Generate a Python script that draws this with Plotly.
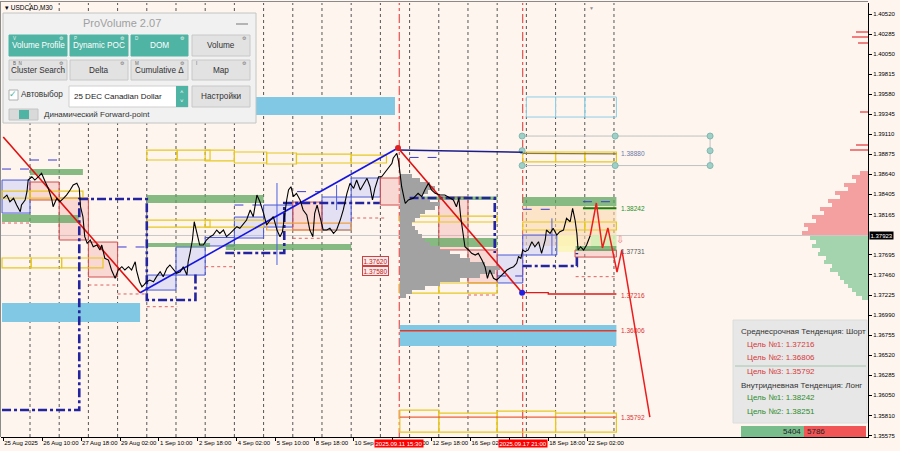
import plotly.graph_objects as go

# ================= DATA =================
# x = M30 bar number counted from 25 Aug 2025 00:00 (trading time, 48 bars per day)
x_tick_bars = [4, 68, 132, 196, 260, 324, 388, 452, 516, 580, 644, 708, 772, 836, 900, 964]
x_tick_text = ["25 Aug 2025", "26 Aug 10:00", "27 Aug 18:00", "29 Aug 02:00", "1 Sep 10:00",
               "2 Sep 18:00", "4 Sep 02:00", "5 Sep 10:00", "8 Sep 18:00", "10 Sep 02:00",
               "11 Sep 10:00", "12 Sep 18:00", "16 Sep 02:00", "17 Sep 10:00", "18 Sep 18:00",
               "22 Sep 02:00"]
day_start_bars = [48, 96, 144, 192, 240, 288, 336, 384, 432, 480, 528, 576, 624, 672, 720,
                  768, 816, 864, 912, 960, 1008]
y_tick_vals = [1.40520, 1.40285, 1.40050, 1.39815, 1.39580, 1.39345, 1.39110, 1.38875, 1.38640,
               1.38405, 1.38165, 1.37695, 1.37460, 1.37225, 1.36990, 1.36755, 1.36520, 1.36285,
               1.36050, 1.35810, 1.35575]
y_tick_text = ["%.5f" % v for v in y_tick_vals]
marker_bars = [655, 858]
marker_text = ["2025.09.11 15:30", "2025.09.17 21:00"]
current_price = 1.37923

price_bar = [4, 10, 15, 21, 26, 32, 34, 40, 43, 45,
             51, 56, 62, 67, 73, 78, 84, 86, 92, 97,
             103, 108, 114, 119, 125, 129, 131, 135, 138, 142,
             147, 152, 158, 163, 166, 171, 177, 182, 188, 193,
             199, 204, 210, 215, 221, 223, 228, 232, 235, 240,
             245, 251, 256, 262, 267, 273, 278, 284, 289, 295,
             300, 306, 308, 311, 315, 318, 322, 327, 333, 338,
             344, 349, 355, 360, 366, 371, 377, 382, 388, 393,
             399, 404, 410, 415, 421, 426, 432, 437, 443, 448,
             454, 459, 463, 467, 470, 473, 477, 481, 486, 492,
             497, 503, 508, 513, 516, 520, 525, 530, 536, 541,
             547, 552, 558, 563, 569, 574, 580, 585, 591, 596,
             602, 607, 611, 615, 621, 626, 632, 637, 643, 645,
             651, 654, 656, 659, 663, 665, 670, 678, 686, 692,
             697, 703, 708, 714, 722, 730, 739, 744, 749, 753,
             756, 760, 763, 769, 774, 780, 785, 791, 796, 800,
             804, 810, 815, 821, 826, 832, 837, 843, 848, 851,
             855, 858, 862, 867, 873, 878, 884, 889, 895, 897,
             903, 908, 914, 919, 925, 930, 936, 940, 944, 947,
             949, 953, 958, 963, 969]
price_close = [1.38359, 1.38397, 1.38319, 1.38359, 1.38280, 1.38202, 1.38280, 1.38339, 1.38436, 1.38573,
               1.38612, 1.38573, 1.38612, 1.38652, 1.38553, 1.38476, 1.38339, 1.38260, 1.38359, 1.38319,
               1.38359, 1.38397, 1.38456, 1.38515, 1.38535, 1.38476, 1.38260, 1.38143, 1.37909, 1.37831,
               1.37870, 1.37791, 1.37811, 1.37753, 1.37811, 1.37655, 1.37635, 1.37518, 1.37421, 1.37518,
               1.37557, 1.37518, 1.37557, 1.37518, 1.37615, 1.37518, 1.37381, 1.37322, 1.37342, 1.37381,
               1.37401, 1.37381, 1.37440, 1.37498, 1.37440, 1.37538, 1.37577, 1.37518, 1.37479, 1.37498,
               1.37557, 1.37459, 1.37615, 1.37714, 1.37870, 1.38084, 1.37948, 1.37811, 1.37811, 1.37870,
               1.37909, 1.37928, 1.37987, 1.37948, 1.37987, 1.37909, 1.37948, 1.37987, 1.38026, 1.38007,
               1.38066, 1.38104, 1.38222, 1.38143, 1.38397, 1.38319, 1.38183, 1.38046, 1.38104, 1.38143,
               1.37987, 1.37909, 1.37967, 1.38222, 1.38339, 1.38456, 1.38495, 1.38378, 1.38417, 1.38339,
               1.38222, 1.38163, 1.37987, 1.37909, 1.38183, 1.38280, 1.38143, 1.37987, 1.37987, 1.38007,
               1.37948, 1.37987, 1.38104, 1.38222, 1.38417, 1.38535, 1.38476, 1.38573, 1.38456, 1.38515,
               1.38593, 1.38495, 1.38339, 1.38476, 1.38612, 1.38612, 1.38671, 1.38711, 1.38769, 1.38828,
               1.38887, 1.38788, 1.38652, 1.38495, 1.38359, 1.38300, 1.38339, 1.38359, 1.38417, 1.38378,
               1.38456, 1.38535, 1.38456, 1.38417, 1.38397, 1.38397, 1.38359, 1.38339, 1.38260, 1.38359,
               1.38143, 1.37948, 1.37791, 1.37753, 1.37714, 1.37694, 1.37714, 1.37635, 1.37557, 1.37421,
               1.37518, 1.37421, 1.37401, 1.37440, 1.37479, 1.37518, 1.37538, 1.37557, 1.37597, 1.37674,
               1.37655, 1.37753, 1.37733, 1.37753, 1.37850, 1.37791, 1.37850, 1.37714, 1.37870, 1.37987,
               1.37948, 1.38007, 1.37928, 1.37967, 1.37987, 1.38124, 1.38084, 1.38242, 1.38104, 1.37948,
               1.37753, 1.37791, 1.37753, 1.37811, 1.37923]

proj_bar = [969, 979, 989, 998, 1013, 1021, 1067]
proj_price = [1.37923, 1.38304, 1.37776, 1.38011, 1.37495, 1.37753, 1.35792]

trend_bar = [4, 229, 653, 857]
trend_price = [1.39078, 1.37252, 1.38949, 1.37252]

# (bar from, bar to, low, high)
pink_boxes = [(48, 96, 1.38339, 1.38550), (96, 144, 1.37870, 1.38362), (144, 192, 1.37436, 1.37846),
              (480, 528, 1.37987, 1.38315), (624, 672, 1.38280, 1.38597), (720, 768, 1.37753, 1.38374),
              (768, 816, 1.37366, 1.37753), (944, 1012, 1.37670, 1.37753)]
blue_boxes = [(2, 48, 1.38186, 1.38573), (240, 288, 1.37283, 1.37459), (288, 336, 1.37459, 1.37788),
              (336, 384, 1.37800, 1.37900), (384, 432, 1.37893, 1.38139), (432, 480, 1.38022, 1.38280),
              (528, 576, 1.37987, 1.38374), (576, 624, 1.38374, 1.38597), (816, 858, 1.37366, 1.37694),
              (858, 914, 1.37694, 1.37928)]
green_zones = [(48, 135, 1.38632, 1.38702), (2, 48, 1.38081, 1.38175), (48, 128, 1.38069, 1.38163),
               (240, 432, 1.38304, 1.38397), (240, 344, 1.37788, 1.37835), (370, 576, 1.37753, 1.37823),
               (656, 816, 1.37788, 1.37893), (656, 816, 1.38339, 1.38380), (858, 1012, 1.38268, 1.38374),
               (945, 1012, 1.37740, 1.37800)]
yellow_boxes = [(240, 290, 1.38808, 1.38925), (290, 344, 1.38808, 1.38925), (336, 384, 1.38797, 1.38925),
                (384, 437, 1.38773, 1.38902), (437, 486, 1.38761, 1.38890), (486, 576, 1.38773, 1.38878),
                (576, 634, 1.38773, 1.38866), (2, 48, 1.38362, 1.38444), (48, 135, 1.38362, 1.38444),
                (2, 50, 1.37542, 1.37659), (50, 100, 1.37542, 1.37659), (100, 168, 1.37542, 1.37659),
                (240, 344, 1.38022, 1.38104), (336, 432, 1.38022, 1.38104), (656, 720, 1.38081, 1.38151),
                (720, 816, 1.38081, 1.38151), (656, 720, 1.37248, 1.37366), (720, 816, 1.37248, 1.37366),
                (858, 912, 1.38785, 1.38902), (912, 960, 1.38785, 1.38902), (960, 1012, 1.38785, 1.38902),
                (858, 960, 1.37987, 1.38081), (960, 1012, 1.37987, 1.38081), (656, 720, 1.35618, 1.35876),
                (720, 816, 1.35618, 1.35841), (816, 912, 1.35618, 1.35864), (912, 1012, 1.35618, 1.35841)]
orange_boxes = [(437, 576, 1.37987, 1.38069)]
sky_bands = [(418, 648, 1.39336, 1.39547), (2, 229, 1.36908, 1.37131), (656, 1012, 1.36627, 1.36873)]
sky_boxes = [(864, 912, 1.39312, 1.39547), (912, 960, 1.39312, 1.39547), (960, 1012, 1.39312, 1.39547)]
peach_zone = (858, 1012, 1.37800, 1.38268)
pale_yellow_zone = (914, 947, 1.37730, 1.37928)
pale_green_zone = (970, 1012, 1.37776, 1.37928)

navy_paths = [
    ([2, 129, 129, 240, 240, 320, 320], [1.35876, 1.35876, 1.38350, 1.38350, 1.37166, 1.37166, 1.37483]),
    ([369, 466, 466, 623], [1.37717, 1.37717, 1.38304, 1.38304]),
    ([672, 812, 812], [1.38362, 1.38362, 1.37717]),
    ([858, 947, 947], [1.37565, 1.37565, 1.37717]),
]
blue_dash = [(48, 96, 1.38808), (2, 48, 1.38702), (192, 237, 1.37788), (672, 718, 1.38838),
             (816, 858, 1.37448), (957, 1012, 1.38319), (858, 912, 1.38230), (384, 432, 1.38280),
             (487, 525, 1.38437)]
red_dots = [(2, 48, 1.38069), (144, 192, 1.37342), (192, 237, 1.37237), (240, 290, 1.37088),
            (336, 384, 1.37557), (576, 634, 1.38128), (480, 528, 1.37890), (768, 816, 1.37225),
            (945, 1012, 1.37440)]
blue_vlines = [(454, 1.37577, 1.38538), (552, 1.38222, 1.38515), (906, 1.37694, 1.38124)]

level_1_38880 = ([653, 858], [1.38925, 1.38900])
level_1_38880_b = ([858, 1012], [1.38885, 1.38880])
level_1_37216 = ([857, 900, 900, 1012], [1.37252, 1.37252, 1.37237, 1.37237])
level_1_36806 = ([656, 1012], [1.36806, 1.36806])
level_1_35792 = ([656, 1012], [1.35792, 1.35792])
level_1_38242 = ([957, 1012], [1.38242, 1.38242])
level_labels = ["1.38880", "1.38242", "1.37731", "1.37216", "1.36806", "1.35792"]
level_values = [1.38880, 1.38242, 1.37731, 1.37216, 1.36806, 1.35792]
level_colors = ["#6a78a8", "#1f8f1f", "#555555", "#e03030", "#e03030", "#e03030"]
box_labels = ["1.37620", "1.37580"]
box_label_pos = [1.37625, 1.37508]

teal_bar = [857, 1010, 1166, 857, 1166, 857, 1010, 1166]
teal_price = [1.39089, 1.39089, 1.39089, 1.38917, 1.38917, 1.38743, 1.38743, 1.38743]

grey_prof_price = [1.38620, 1.38573, 1.38526, 1.38480, 1.38433, 1.38386, 1.38339, 1.38292, 1.38245,
                   1.38198, 1.38151, 1.38104, 1.38057, 1.38011, 1.37964, 1.37917, 1.37870, 1.37823,
                   1.37776, 1.37729, 1.37682, 1.37635, 1.37588, 1.37542, 1.37495, 1.37448, 1.37401,
                   1.37354, 1.37307, 1.37260, 1.37213]
grey_prof_vol = [12, 20, 30, 35, 28, 22, 30, 40, 35, 25, 20, 15, 12, 15, 18, 22, 25, 30, 40, 50,
                 60, 70, 85, 100, 95, 80, 60, 40, 25, 12, 6]
red_prof_price = [1.38655, 1.38608, 1.38561, 1.38514, 1.38467, 1.38420, 1.38373, 1.38326, 1.38280,
                  1.38233, 1.38186, 1.38139, 1.38092, 1.38045, 1.37998, 1.37951]
red_prof_vol = [8, 16, 12, 24, 20, 33, 28, 40, 36, 48, 44, 56, 52, 64, 60, 66]
red_top_price = [1.40306, 1.40250, 1.40180, 1.39368, 1.38981, 1.38922]
red_top_vol = [12, 16, 10, 8, 12, 18]
green_prof_price = [1.37893, 1.37846, 1.37799, 1.37752, 1.37705, 1.37659, 1.37612, 1.37565, 1.37518,
                    1.37471, 1.37424, 1.37377, 1.37330, 1.37283, 1.37236, 1.37190]
green_prof_vol = [58, 52, 56, 48, 50, 42, 44, 36, 38, 30, 28, 24, 20, 16, 12, 6]

trend_info = ["Среднесрочная Тенденция: Шорт", "Цель №1: 1.37216", "Цель №2: 1.36806",
              "Цель №3: 1.35792", "Внутридневная Тенденция: Лонг", "Цель №1: 1.38242",
              "Цель №2: 1.38251"]
delta_buy, delta_sell = 5404, 5786

# ================= LAYOUT / STYLE =================
W, H = 900, 451
ML, MR, MT, MB = 1, 32, 3, 14
PW, PH = W - ML - MR, H - MT - MB
X_RANGE = [0.33, 1425.6]
Y_RANGE = [1.35560, 1.40649]
VOL_TO_BARS = 1.644
BG = "#FDF5EE"
FONT = "Liberation Sans"


def pxx(x):
    return (x - ML) / PW


def pxy(y):
    return 1 - (y - MT) / PH


shapes = []
annotations = []


def drect(b, fill="rgba(0,0,0,0)", line=None, lw=1, layer="below", dash=None):
    shapes.append(dict(type="rect", xref="x", yref="y", x0=b[0], x1=b[1], y0=b[2], y1=b[3],
                       fillcolor=fill, layer=layer,
                       line=dict(color=line if line else "rgba(0,0,0,0)", width=lw if line else 0,
                                 dash=dash)))


def prect(x0, y0, x1, y1, fill, line=None, lw=1):
    shapes.append(dict(type="rect", xref="paper", yref="paper", x0=pxx(x0), x1=pxx(x1),
                       y0=pxy(y1), y1=pxy(y0), fillcolor=fill, layer="above",
                       line=dict(color=line if line else fill, width=lw if line else 0)))


def pline(x0, y0, x1, y1, color, width=1):
    shapes.append(dict(type="line", xref="paper", yref="paper", x0=pxx(x0), x1=pxx(x1),
                       y0=pxy(y0), y1=pxy(y1), layer="above", line=dict(color=color, width=width)))


def ptext(x, y, text, size=8, color="#333333", anchor="left", family=FONT):
    annotations.append(dict(xref="paper", yref="paper", x=pxx(x), y=pxy(y), text=text,
                            showarrow=False, xanchor=anchor, yanchor="middle",
                            font=dict(size=size, color=color, family=family), borderpad=0))


# fills below
for b in sky_bands:
    drect(b, fill="#80c8e4")
drect(peach_zone, fill="rgba(252,214,170,0.55)")
drect(pale_yellow_zone, fill="rgba(250,245,180,0.8)")
drect(pale_green_zone, fill="rgba(205,240,180,0.8)")
for b in blue_boxes:
    drect(b, fill="rgba(175,185,250,0.35)", line="#4a5ad8")
for b in pink_boxes:
    drect(b, fill="rgba(240,160,160,0.35)", line="#d05050")
for b in green_zones:
    drect(b, fill="rgba(95,165,95,0.75)")
for b in yellow_boxes:
    drect(b, line="#e8c820", lw=1.2)
for b in orange_boxes:
    drect(b, line="#f0a040", lw=1.2)
for b in sky_boxes:
    drect(b, line="#8fcfe6", lw=1)
for d in day_start_bars:
    shapes.append(dict(type="line", xref="x", yref="paper", x0=d, x1=d, y0=0, y1=1, layer="below",
                       line=dict(color="#555555", width=1, dash="dot")))
for d in marker_bars:
    shapes.append(dict(type="line", xref="x", yref="paper", x0=d, x1=d, y0=0, y1=1, layer="below",
                       line=dict(color="#e03030", width=1, dash="dashdot")))
shapes.append(dict(type="line", xref="paper", yref="y", x0=0, x1=1, y0=current_price,
                   y1=current_price, layer="below", line=dict(color="#c8c8c8", width=1)))

fig = go.Figure()


def seg_trace(segs, color, width, dash):
    xs, ys = [], []
    for x0, x1, p in segs:
        xs += [x0, x1, None]
        ys += [p, p, None]
    return go.Scatter(x=xs, y=ys, mode="lines", line=dict(color=color, width=width, dash=dash),
                      hoverinfo="skip")


# volume profiles
fig.add_trace(go.Bar(orientation="h", y=grey_prof_price, x=[v * VOL_TO_BARS for v in grey_prof_vol],
                     base=[656] * len(grey_prof_vol), width=0.00047,
                     marker=dict(color="#a2a2a2", line=dict(width=0))))
fig.add_trace(go.Bar(orientation="h", y=red_prof_price, x=[v * VOL_TO_BARS for v in red_prof_vol],
                     base=[X_RANGE[1] - v * VOL_TO_BARS for v in red_prof_vol], width=0.00047,
                     marker=dict(color="#f4a0a0", line=dict(width=0))))
fig.add_trace(go.Bar(orientation="h", y=red_top_price, x=[v * VOL_TO_BARS for v in red_top_vol],
                     base=[X_RANGE[1] - v * VOL_TO_BARS for v in red_top_vol], width=0.00012,
                     marker=dict(color="#f08080", line=dict(width=0))))
fig.add_trace(go.Bar(orientation="h", y=green_prof_price, x=[v * VOL_TO_BARS for v in green_prof_vol],
                     base=[X_RANGE[1] - v * VOL_TO_BARS for v in green_prof_vol], width=0.00047,
                     marker=dict(color="#a3d4ad", line=dict(width=0))))

# dashed helpers
fig.add_trace(seg_trace(blue_dash, "#3a3ad0", 1, "dash"))
fig.add_trace(seg_trace(red_dots, "#e06060", 1, "dot"))
vx, vy = [], []
for b, lo, hi in blue_vlines:
    vx += [b, b, None]
    vy += [lo, hi, None]
fig.add_trace(go.Scatter(x=vx, y=vy, mode="lines", line=dict(color="#5060e0", width=1)))

for xs, ys in navy_paths:
    fig.add_trace(go.Scatter(x=xs, y=ys, mode="lines", line=dict(color="#24249e", width=2.6, dash="dashdot")))

# teal grid of dots
fig.add_trace(go.Scatter(x=[857, 1166, None, 857, 1166, None, 1166, 1166],
                         y=[teal_price[0], teal_price[2], None, teal_price[5], teal_price[7], None,
                            teal_price[0], teal_price[7]],
                         mode="lines", line=dict(color="#c0c0c0", width=1)))
fig.add_trace(go.Scatter(x=teal_bar, y=teal_price, mode="markers",
                         marker=dict(color="#9fd0c8", size=6, line=dict(color="#80b8b0", width=1))))

# target levels
fig.add_trace(go.Scatter(x=level_1_38880[0], y=level_1_38880[1], mode="lines", line=dict(color="#1c1c8a", width=1.5)))
fig.add_trace(go.Scatter(x=level_1_38880_b[0], y=level_1_38880_b[1], mode="lines", line=dict(color="#8b7b3b", width=1.3)))
fig.add_trace(go.Scatter(x=level_1_37216[0], y=level_1_37216[1], mode="lines", line=dict(color="#e01818", width=1.3)))
fig.add_trace(go.Scatter(x=level_1_36806[0], y=level_1_36806[1], mode="lines", line=dict(color="#e03a2a", width=1.3)))
fig.add_trace(go.Scatter(x=level_1_35792[0], y=level_1_35792[1], mode="lines", line=dict(color="#e8603a", width=1.3)))
fig.add_trace(go.Scatter(x=level_1_38242[0], y=level_1_38242[1], mode="lines", line=dict(color="#118011", width=2.2)))

# trend lines
tcols = ["#e01010", "#1515e0", "#e01010"]
for i in range(3):
    fig.add_trace(go.Scatter(x=trend_bar[i:i + 2], y=trend_price[i:i + 2], mode="lines",
                             line=dict(color=tcols[i], width=1.6)))

# price
fig.add_trace(go.Scatter(x=price_bar, y=price_close, mode="lines", line=dict(color="#000000", width=1.1)))
# projection
fig.add_trace(go.Scatter(x=proj_bar, y=proj_price, mode="lines", line=dict(color="#ee1c1c", width=1.5)))
fig.add_trace(go.Scatter(x=[trend_bar[2]], y=[trend_price[2]], mode="markers", marker=dict(color="#e02020", size=6)))
fig.add_trace(go.Scatter(x=[trend_bar[3]], y=[trend_price[3]], mode="markers", marker=dict(color="#2020e0", size=6)))

# level labels
for lab, val, col in zip(level_labels, level_values, level_colors):
    annotations.append(dict(xref="x", yref="y", x=1016, y=val, text=lab, showarrow=False,
                            xanchor="left", yanchor="middle", font=dict(size=6.5, color=col, family=FONT)))
for lab, pos in zip(box_labels, box_label_pos):
    annotations.append(dict(xref="x", yref="y", x=616, y=pos, text=lab,
                            showarrow=False, xanchor="center", yanchor="middle", bgcolor="#fbeaea",
                            bordercolor="#d04040", borderwidth=1, borderpad=0.5,
                            font=dict(size=6.5, color="#c02020", family=FONT)))
annotations.append(dict(xref="x", yref="y", x=1018, y=1.37878, text="⇩", showarrow=False,
                        font=dict(size=10, color="#f08080")))
annotations.append(dict(xref="x", yref="paper", x=971, y=1, text="▼", showarrow=False, yanchor="top",
                        font=dict(size=5, color="#909090")))

# axis overlays
for b, t in zip(marker_bars, marker_text):
    annotations.append(dict(xref="x", yref="paper", x=b, y=0, yanchor="top", yshift=-2, text=t,
                            showarrow=False, bgcolor="#ff0000", borderpad=0.5,
                            font=dict(size=6, color="white", family=FONT)))
annotations.append(dict(xref="paper", yref="y", x=1, y=current_price, xanchor="left", xshift=1,
                        text="%.5f" % current_price, showarrow=False, bgcolor="#000000", borderpad=0.5,
                        font=dict(size=6, color="white", family=FONT)))

# window frame
pline(0, 1.5, 868, 1.5, "#8a8a8a", 1)
pline(0.5, 2, 0.5, 437, "#8a8a8a", 1)
ptext(4, 7.5, "▾ USDCAD,M30", size=6.5, color="#000000")

# ProVolume panel
TEAL = "#4fb4a4"
prect(3, 13, 256, 123, "#f1f1f1", line="#c4c4c4")
ptext(122, 22.5, "ProVolume 2.07", size=11, color="#a0a0a0", anchor="center")
pline(236, 24, 248, 24, "#8c8c8c", 1.2)
row1 = [("Volume Profile", 9, 67, True, "V"), ("Dynamic POC", 70, 128, True, "P"),
        ("DOM", 131, 188, True, "D"), ("Volume", 192, 250, False, "")]
row2 = [("Cluster Search", 9, 67, False, "B  N"), ("Delta", 70, 128, False, ""),
        ("Cumulative Δ", 131, 188, False, "M"), ("Map", 192, 250, False, "I")]
for labels, y0, y1 in ((row1, 35, 56), (row2, 60, 80)):
    for text, x0, x1, on, key in labels:
        prect(x0, y0, x1, y1, TEAL if on else "#e2e2e2", line="#c8c8c8" if not on else TEAL)
        ptext((x0 + x1) / 2, (y0 + y1) / 2 + 0.5, text, size=8.2, color="white" if on else "#333333",
              anchor="center")
        if key:
            ptext(x0 + 3, y0 + 3, key, size=4.5, color="#e8f4f2" if on else "#666666")
        ptext(x1 - 6, y0 + 3, "⚙", size=5, color="#e8f4f2" if on else "#777777", anchor="center")
prect(9, 90, 18, 100, "#ffffff", line="#b0b0b0")
ptext(8, 94, "✓", size=9, color=TEAL)
ptext(20, 95, "Автовыбор", size=8.2, color="#333333")
prect(69, 86, 188, 107, "#ffffff", line="#cfcfcf")
prect(176, 86, 188, 107, TEAL)
ptext(182, 92, "˄", size=6, color="white", anchor="center")
ptext(182, 101, "˅", size=6, color="white", anchor="center")
ptext(73, 96.5, "25 DEC Canadian Dollar", size=8, color="#222222")
prect(192, 86, 250, 107, "#e2e2e2", line="#c8c8c8")
ptext(221, 96.5, "Настройки", size=8.2, color="#333333", anchor="center")
prect(9, 109, 38, 120, "#d9d9d9", line="#c4c4c4")
prect(19, 110, 29, 119, TEAL)
ptext(43, 114.5, "Динамический Forward-point", size=8, color="#333333")

# trend info panel
prect(733, 320, 867, 423, "#e7e7e7", line="#dcdcdc")
pline(735, 366, 866, 366, "#a8c6b0", 1)
info_pos = [(740, 331), (746, 344.5), (746, 357.5), (746, 371), (740, 385), (746, 397.5), (746, 411.5)]
info_col = ["#333333", "#d63a3a", "#d63a3a", "#d63a3a", "#333333", "#2e8b2e", "#2e8b2e"]
for (x, y), t, c in zip(info_pos, trend_info, info_col):
    ptext(x, y, t, size=8, color=c)
prect(741, 426, 804, 437, "#7abd8d")
prect(804, 426, 866, 437, "#f25555")
ptext(802, 431.5, str(delta_buy), size=8, color="#222222", anchor="right")
ptext(806, 431.5, str(delta_sell), size=8, color="#222222")

fig.update_layout(
    width=W, height=H, margin=dict(l=ML, r=MR, t=MT, b=MB),
    paper_bgcolor=BG, plot_bgcolor=BG, showlegend=False, barmode="overlay", bargap=0,
    shapes=shapes, annotations=annotations, hovermode=False,
    xaxis=dict(range=X_RANGE, tickvals=x_tick_bars, ticktext=x_tick_text, ticks="outside", ticklen=3,
               tickcolor="#000000", showgrid=False, zeroline=False, showline=True, linecolor="#000000",
               linewidth=1, ticklabelposition="outside right", tickangle=0,
               tickfont=dict(size=6, family=FONT, color="#000000")),
    yaxis=dict(range=Y_RANGE, side="right", tickvals=y_tick_vals, ticktext=y_tick_text, ticks="outside",
               ticklen=3, tickcolor="#000000", showgrid=False, zeroline=False, showline=True,
               linecolor="#000000", linewidth=1, tickfont=dict(size=6, family=FONT, color="#000000")),
)
fig.write_html("out.html", config={"displayModeBar": False},
               post_script="document.body.style.margin='0';document.body.style.overflow='hidden';")
